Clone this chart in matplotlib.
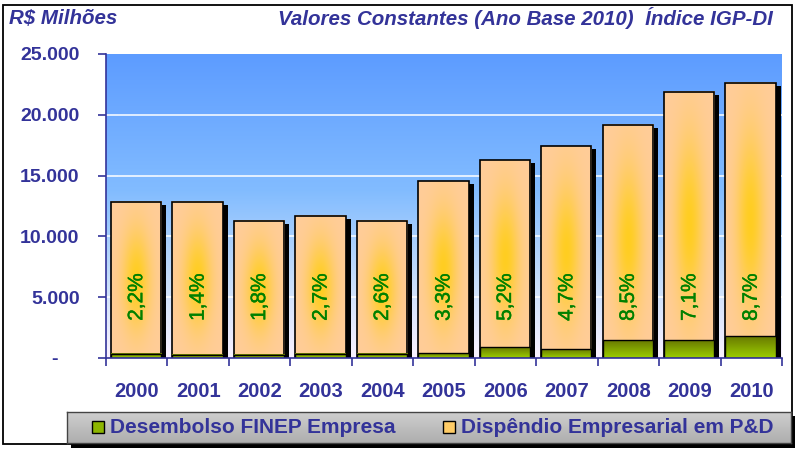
import numpy as np
import matplotlib
matplotlib.use("Agg")
import matplotlib.pyplot as plt
from matplotlib.patches import Rectangle
import matplotlib.transforms as mtransforms
import matplotlib.patheffects as pe

plt.rcParams['font.family'] = ['Liberation Sans', 'DejaVu Sans']

years = ['2000', '2001', '2002', '2003', '2004', '2005', '2006', '2007', '2008', '2009', '2010']
dispendio = [12850, 12850, 11280, 11700, 11280, 14530, 16280, 17430, 19170, 21900, 22650]
finep = [330, 250, 250, 330, 330, 410, 880, 720, 1450, 1450, 1780]
percent = ['2,2%', '1,4%', '1,8%', '2,7%', '2,6%', '3,3%', '5,2%', '4,7%', '8,5%', '7,1%', '8,7%']
yticks = [0, 5000, 10000, 15000, 20000, 25000]
ytick_labels = ['-    ', '5.000', '10.000', '15.000', '20.000', '25.000']
legend_labels = ['Desembolso FINEP Empresa', 'Dispêndio Empresarial em P&D']
title_left = 'R$ Milhões'
title_right = 'Valores Constantes (Ano Base 2010)  Índice IGP-DI'

NAVY = '#333399'
W, H = 797, 450
fig = plt.figure(figsize=(W / 100, H / 100), dpi=100)

def fx(px):
    return px / W

def fy(py):
    return 1 - py / H

# outer frame
fig.patches.append(Rectangle((fx(2.5), fy(444)), fx(792) - fx(2.5), fy(5) - fy(444),
                             transform=fig.transFigure, fill=False, edgecolor='black', lw=1.3,
                             zorder=0))

ax = fig.add_axes([fx(106), fy(358), fx(782) - fx(106), fy(54) - fy(358)])
n = len(years)
ax.set_xlim(0, n)
ax.set_ylim(0, 25000)

# background gradient
t = np.linspace(0, 1, 256)[:, None]
stops = [(0.0, (93, 156, 255)), (0.45, (130, 188, 255)), (0.75, (200, 222, 250)), (1.0, (250, 242, 255))]
cols = np.zeros((256, 1, 3))
for c in range(3):
    cols[:, 0, c] = np.interp(t[:, 0], [s[0] for s in stops], [s[1][c] for s in stops]) / 255
ax.imshow(cols, extent=[0, 1, 0, 1], transform=ax.transAxes, aspect='auto', zorder=0)

for v in yticks[1:-1]:
    ax.axhline(v, color='white', lw=1.1, zorder=1)

# bar glow image
gh, gw = 200, 80
yy, xx = np.mgrid[0:gh, 0:gw]
xn = (xx + 0.5) / gw - 0.5
yn = (yy + 0.5) / gh - 0.5
peach = np.array([255, 204, 153]) / 255
gold = np.array([255, 206, 20]) / 255

bw = 0.82
shadow_tr = mtransforms.ScaledTranslation(5 / 100, -3 / 100, fig.dpi_scale_trans)
for i in range(n):
    x0 = i + 0.5 - bw / 2 - 0.01
    h = dispendio[i]
    # shadow
    ax.add_patch(Rectangle((x0, 0), bw, h, facecolor='black', edgecolor='none',
                           transform=ax.transData + shadow_tr, zorder=2))
    wgt = 0.9 * np.exp(-(xn ** 2 / (2 * 0.19 ** 2) + yn ** 2 / (2 * 0.22 ** 2)))
    img = peach[None, None, :] * (1 - wgt[..., None]) + gold[None, None, :] * wgt[..., None]
    ax.imshow(img, extent=[x0, x0 + bw, 0, h], aspect='auto', zorder=3, origin='lower')
    ax.add_patch(Rectangle((x0, 0), bw, h, fill=False, edgecolor='black', lw=1.2, zorder=4))
    # finep
    g = np.linspace(0, 1, 32)[:, None, None]
    top = np.array([105, 122, 0]) / 255
    bot = np.array([155, 205, 0]) / 255
    gimg = bot * (1 - g) + top * g
    ax.imshow(gimg, extent=[x0, x0 + bw, 0, finep[i]], aspect='auto', zorder=5, origin='lower')
    ax.add_patch(Rectangle((x0, 0), bw, finep[i], fill=False, edgecolor='black', lw=1.0, zorder=6))
    ax.text(i + 0.5, 5000, percent[i], rotation=90, ha='center', va='center',
            color='#008000', fontsize=15, zorder=7,
            path_effects=[pe.withStroke(linewidth=0.3, foreground='#008000')])

ax.set_aspect('auto')
ax.set_xlim(0, n)
ax.set_ylim(0, 25000)

for s in ['top', 'right']:
    ax.spines[s].set_visible(False)
for s in ['left', 'bottom']:
    ax.spines[s].set_color(NAVY)
    ax.spines[s].set_linewidth(1.2)
    ax.spines[s].set_zorder(8)

ax.set_yticks(yticks)
ax.set_yticklabels(ytick_labels)
ax.tick_params(axis='y', direction='out', length=6, width=1.2, color=NAVY,
               labelcolor=NAVY, labelsize=14, pad=13)
for lab in ax.get_yticklabels():
    lab.set_fontweight('bold')

ax.set_xticks(np.arange(n) + 0.5)
ax.set_xticklabels(years)
ax.set_xticks(np.arange(n + 1), minor=True)
ax.tick_params(axis='x', which='major', length=0, labelcolor=NAVY, labelsize=14.5, pad=17)
ax.tick_params(axis='x', which='minor', direction='out', length=6, width=1.2, color=NAVY)
for lab in ax.get_xticklabels():
    lab.set_fontweight('bold')

# titles
fig.text(fx(9), fy(18), title_left, ha='left', va='center', color=NAVY,
         fontsize=14.8, fontweight='bold', fontstyle='italic')
fig.text(fx(773), fy(18), title_right, ha='right', va='center', color=NAVY,
         fontsize=14.8, fontweight='bold', fontstyle='italic')

# legend box
lx0, ly0, lx1, ly1 = 67, 412, 791, 443
fig.patches.append(Rectangle((fx(lx0 + 4), fy(ly1 + 5)), fx(lx1) - fx(lx0), fy(ly0 + 4) - fy(ly1 + 5),
                             transform=fig.transFigure, facecolor='black', edgecolor='none', zorder=1))
lax = fig.add_axes([fx(lx0), fy(ly1), fx(lx1) - fx(lx0), fy(ly0) - fy(ly1)])
lax.set_zorder(2)
lg = np.linspace(0, 1, 32)[:, None, None]
ltop = np.array([205, 205, 205]) / 255
lbot = np.array([175, 175, 175]) / 255
lax.imshow(ltop * (1 - lg) + lbot * lg, extent=[0, 1, 0, 1], aspect='auto')
lax.set_xlim(0, 1)
lax.set_ylim(0, 1)
lax.set_xticks([])
lax.set_yticks([])
for s in lax.spines.values():
    s.set_color('#444444')
    s.set_linewidth(1.0)

sq_x = [92, 443]
sq_cols = ['#8DB600', '#FFCC66']
for k in range(2):
    fig.patches.append(Rectangle((fx(sq_x[k]), fy(433)), fx(12), fy(421) - fy(433),
                                 transform=fig.transFigure, facecolor=sq_cols[k],
                                 edgecolor='black', lw=1.0, zorder=5))
    fig.text(fx(sq_x[k] + 18), fy(427.5), legend_labels[k], ha='left', va='center',
             color=NAVY, fontsize=15, fontweight='bold', zorder=6)

fig.savefig('out.png', dpi=100)
